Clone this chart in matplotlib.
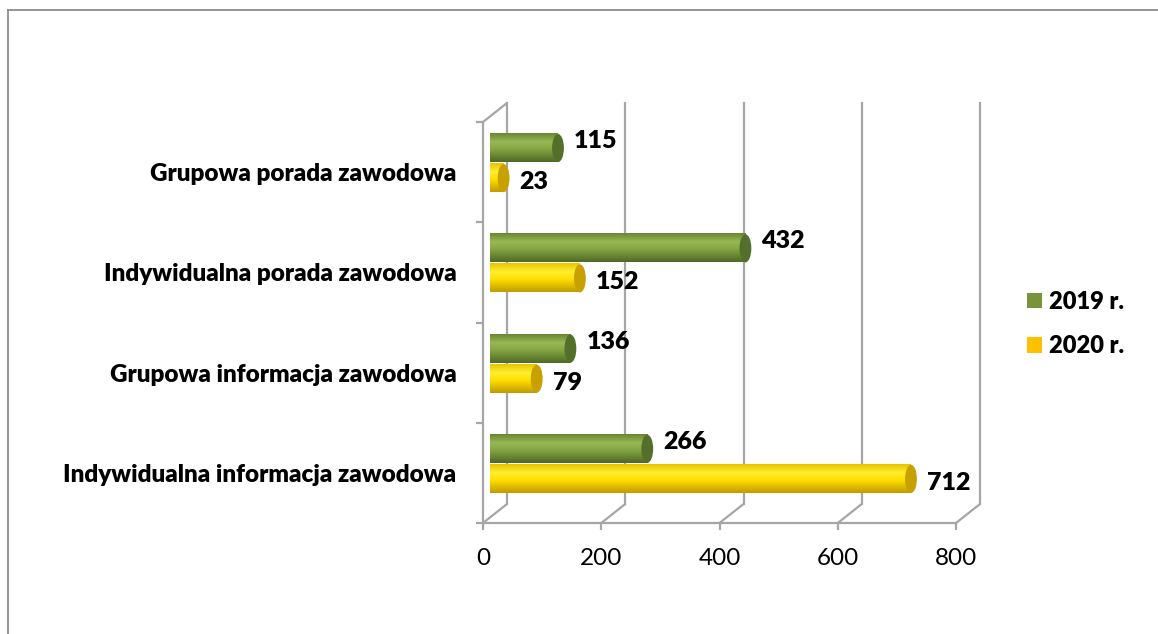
import numpy as np
import matplotlib
matplotlib.use("Agg")
import matplotlib.pyplot as plt
from matplotlib.colors import LinearSegmentedColormap
from matplotlib.patches import Ellipse, Patch, ConnectionPatch
from matplotlib.transforms import ScaledTranslation
from matplotlib.lines import Line2D

# ---- data (bottom to top) ----
categories = ["Indywidualna informacja zawodowa",
              "Grupowa informacja zawodowa",
              "Indywidualna porada zawodowa",
              "Grupowa porada zawodowa"]
values_2019 = [266, 136, 432, 115]
values_2020 = [712, 79, 152, 23]
series_labels = ["2019 r.", "2020 r."]
x_ticks = [0, 200, 400, 600, 800]

plt.rcParams['font.family'] = ['Lato', 'DejaVu Sans']
BOLD = "heavy"

W, H = 1158, 634
fig = plt.figure(figsize=(W / 100, H / 100), dpi=100)
fig.patch.set_facecolor("white")

# outer chart frame (top + left visible)
fig.add_artist(Line2D([8 / W, 8 / W], [0, 1 - 10 / H], color="#8c8c8c", lw=1.3,
                      transform=fig.transFigure))
fig.add_artist(Line2D([8 / W, 1], [1 - 10 / H, 1 - 10 / H], color="#8c8c8c", lw=1.3,
                      transform=fig.transFigure))

ax = fig.add_axes([483 / W, 1 - 523 / H, (956 - 483) / W, (523 - 122) / H])
ax.set_xlim(0, 800)
ax.set_ylim(-0.5, len(categories) - 0.5)
for s in ax.spines.values():
    s.set_visible(False)
ax.patch.set_alpha(0)

grid_c = "#a6a6a6"
grid_lw = 1.6
back = ax.transData + ScaledTranslation(24 / 100, 19 / 100, fig.dpi_scale_trans)
bar_tr = ax.transData + ScaledTranslation(7 / 100, 9 / 100, fig.dpi_scale_trans)

y0, y1 = -0.5, len(categories) - 0.5
# back wall gridlines
for v in x_ticks:
    ax.plot([v, v], [y0, y1], color=grid_c, lw=grid_lw, transform=back, clip_on=False, zorder=1)
    # floor diagonals
    ax.add_artist(ConnectionPatch(xyA=(v, y0), coordsA=ax.transData,
                                  xyB=(v, y0), coordsB=back,
                                  color=grid_c, lw=grid_lw, clip_on=False, zorder=1))
# front floor edge
ax.plot([0, 800], [y0, y0], color=grid_c, lw=grid_lw, clip_on=False, zorder=1)
# left wall front edge and top diagonal
ax.plot([0, 0], [y0, y1], color=grid_c, lw=grid_lw, clip_on=False, zorder=1)
ax.add_artist(ConnectionPatch(xyA=(0, y1), coordsA=ax.transData,
                              xyB=(0, y1), coordsB=back,
                              color=grid_c, lw=grid_lw, clip_on=False, zorder=1))

# ticks
ax.set_xticks(x_ticks)
ax.set_xticklabels([str(t) for t in x_ticks], fontsize=17.5)
ax.tick_params(axis="x", length=5, width=grid_lw, color=grid_c, pad=13)
ypos = np.arange(len(categories))
ax.set_yticks(ypos)
ax.set_yticklabels(categories, fontsize=17.5, fontweight=BOLD)
ax.set_yticks(np.arange(len(categories) + 1) - 0.5, minor=True)
ax.tick_params(axis="y", which="major", length=0, pad=19)
ax.tick_params(axis="y", which="minor", length=5, width=grid_lw, color=grid_c)

# cylinder colormaps
green_cm = LinearSegmentedColormap.from_list(
    "g", [(0, "#6a8733"), (0.3, "#98b855"), (0.55, "#86a643"), (1, "#4e6a25")])
yellow_cm = LinearSegmentedColormap.from_list(
    "y", [(0, "#e8c400"), (0.3, "#ffee30"), (0.55, "#ffe000"), (1, "#c29b00")])
cap_colors = ["#536f2a", "#c8a100"]
grad = np.linspace(0, 1, 64).reshape(-1, 1)

bar_h = 0.28
offsets = [0.15, -0.15]
cap_w = 20
for series, cm, cap_c, off in [(values_2019, green_cm, cap_colors[0], offsets[0]),
                               (values_2020, yellow_cm, cap_colors[1], offsets[1])]:
    for i, v in enumerate(series):
        yc = ypos[i] + off
        im = ax.imshow(grad, cmap=cm, aspect="auto", interpolation="bilinear",
                       extent=(0, v, yc - bar_h / 2, yc + bar_h / 2), origin="upper",
                       zorder=3, clip_on=False)
        im.set_transform(bar_tr)
        e = Ellipse((v, yc), cap_w, bar_h, facecolor=cap_c, edgecolor="none",
                    transform=bar_tr, zorder=4, clip_on=False)
        ax.add_patch(e)
        dy = 7 if off > 0 else -4
        ax.annotate(str(v), xy=(v, yc), xycoords=bar_tr,
                    xytext=(16, dy), textcoords="offset pixels",
                    ha="left", va="center", fontsize=18, fontweight=BOLD,
                    color="black", annotation_clip=False, zorder=5)

ax.set_xlim(0, 800)
ax.set_ylim(-0.5, len(categories) - 0.5)

handles = [Patch(facecolor="#77933c"), Patch(facecolor="#ffc000")]
leg = fig.legend(handles, series_labels, loc="center left",
                 bbox_to_anchor=(1027 / W, 1 - 324 / H), frameon=False,
                 prop={"size": 17, "weight": BOLD},
                 handlelength=0.62, handleheight=0.62, handletextpad=0.33,
                 labelspacing=0.95, borderpad=0, borderaxespad=0)

fig.savefig("out.png", dpi=100)
